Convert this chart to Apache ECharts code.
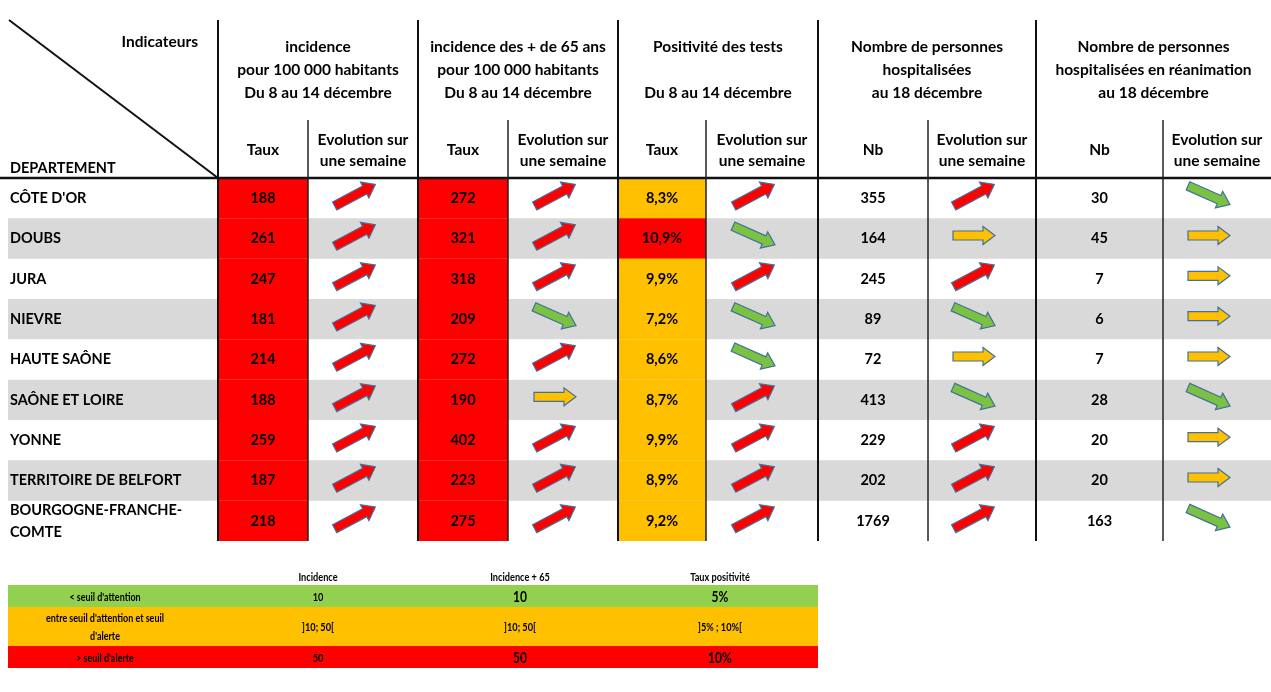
<!DOCTYPE html>
<html>
<head>
<meta charset="utf-8">
<script src="https://cdn.jsdelivr.net/npm/echarts@6/dist/echarts.min.js"></script>
<style>
html, body { margin: 0; padding: 0; background: #fff; }
#chart { width: 1271px; height: 692px; }
</style>
</head>
<body>
<div id="chart"></div>
<script>
// données du tableau
var departements = ["CÔTE D'OR", 'DOUBS', 'JURA', 'NIEVRE', 'HAUTE SAÔNE', 'SAÔNE ET LOIRE', 'YONNE', 'TERRITOIRE DE BELFORT', 'BOURGOGNE-FRANCHE-\nCOMTE'];
var incidence = [188, 261, 247, 181, 214, 188, 259, 187, 218];
var incidenceEvol = ['up', 'up', 'up', 'up', 'up', 'up', 'up', 'up', 'up'];
var incidence65 = [272, 321, 318, 209, 272, 190, 402, 223, 275];
var incidence65Evol = ['up', 'up', 'up', 'down', 'up', 'flat', 'up', 'up', 'up'];
var positivite = [8.3, 10.9, 9.9, 7.2, 8.6, 8.7, 9.9, 8.9, 9.2];
var positiviteEvol = ['up', 'down', 'up', 'down', 'down', 'up', 'up', 'up', 'up'];
var hospitalises = [355, 164, 245, 89, 72, 413, 229, 202, 1769];
var hospitalisesEvol = ['up', 'flat', 'up', 'down', 'flat', 'down', 'up', 'up', 'up'];
var reanimation = [30, 45, 7, 6, 7, 28, 20, 20, 163];
var reanimationEvol = ['down', 'flat', 'flat', 'flat', 'flat', 'down', 'flat', 'flat', 'down'];

// seuils (légende)
var seuilIncidence = [10, 50];
var seuilPositivite = [5, 10];
var legendeTitres = ['Incidence', 'Incidence + 65', 'Taux positivité'];
var legendeLibelles = ["< seuil d'attention", "entre seuil d'attention et seuil\nd'alerte", "> seuil d'alerte"];
var legendeIncidence = ['10', ']10; 50[', '50'];
var legendeIncidence65 = ['10', ']10; 50[', '50'];
var legendePositivite = ['5%', ']5% ; 10%[', '10%'];

// en-têtes
var groupes = [
    'incidence\npour 100 000 habitants\nDu 8 au 14 décembre',
    'incidence des + de 65 ans\npour 100 000 habitants\nDu 8 au 14 décembre',
    'Positivité des tests\n\nDu 8 au 14 décembre',
    'Nombre de personnes\nhospitalisées\nau 18 décembre',
    'Nombre de personnes\nhospitalisées en réanimation\nau 18 décembre'
];
var sousTitres = ['Taux', 'Taux', 'Taux', 'Nb', 'Nb'];
var evolTitre = 'Evolution sur\nune semaine';

/* mise en page */
var colEdges = [8, 218, 308, 418, 508, 618, 706, 818, 928, 1036, 1163, 1271];
var couleurs = { vert: '#92d050', orange: '#ffc000', rouge: '#ff0000', gris: '#d9d9d9' };
var arrowColors = { up: '#ff0000', down: '#7cc242', flat: '#ffc000' };
var arrowAngles = { up: 28, down: -24, flat: 0 };
var police = 'Lato, "Open Sans", sans-serif';
var fTete = 'bold 15.5px ' + police;
var fMaj = 'bold 14.5px ' + police;

function couleurSeuil(v, seuils) {
    if (v >= seuils[1]) return couleurs.rouge;
    if (v >= seuils[0]) return couleurs.orange;
    return couleurs.vert;
}

var valeurs = [], fleches = [], bandes = [], noms = [];
departements.forEach(function (d, r) {
    noms.push([0, r, d]);
    if (r % 2 === 1) bandes.push([0, r]);
    valeurs.push([1, r, String(incidence[r]), couleurSeuil(incidence[r], seuilIncidence)]);
    valeurs.push([3, r, String(incidence65[r]), couleurSeuil(incidence65[r], seuilIncidence)]);
    valeurs.push([5, r, positivite[r].toFixed(1).replace('.', ',') + '%', couleurSeuil(positivite[r], seuilPositivite)]);
    valeurs.push([7, r, String(hospitalises[r]), '']);
    valeurs.push([9, r, String(reanimation[r]), '']);
    fleches.push([2, r, incidenceEvol[r]]);
    fleches.push([4, r, incidence65Evol[r]]);
    fleches.push([6, r, positiviteEvol[r]]);
    fleches.push([8, r, hospitalisesEvol[r]]);
    fleches.push([10, r, reanimationEvol[r]]);
});

function cellBox(api, col, row) {
    var p0 = api.coord([colEdges[col], row]);
    var p1 = api.coord([colEdges[col + 1], row]);
    var h = api.size([0, 1])[1];
    return { x: p0[0], y: p0[1] - h / 2, w: p1[0] - p0[0], h: h, cx: (p0[0] + p1[0]) / 2, cy: p0[1] };
}

function texte(t, x, y, font, opts) {
    opts = opts || {};
    return {
        type: 'text', x: x, y: y, scaleX: opts.scaleX || 1, z: 50,
        style: { text: t, x: 0, y: 0, align: opts.align || 'center', verticalAlign: 'middle', lineHeight: opts.lineHeight, font: font, fill: '#000' }
    };
}

var graphics = [];
// lignes
graphics.push({ type: 'line', shape: { x1: 9, y1: 20, x2: 218, y2: 178 }, style: { stroke: '#111', lineWidth: 2 }, z: 100 });
graphics.push({ type: 'line', shape: { x1: 0, y1: 178, x2: 1271, y2: 178 }, style: { stroke: '#111', lineWidth: 2.5 }, z: 100 });
[218, 418, 618, 818, 1036].forEach(function (x) {
    graphics.push({ type: 'line', shape: { x1: x, y1: 20, x2: x, y2: 541 }, style: { stroke: '#111', lineWidth: 2 }, z: 100 });
});
[308, 508, 706, 928, 1163].forEach(function (x) {
    graphics.push({ type: 'line', shape: { x1: x, y1: 120, x2: x, y2: 541 }, style: { stroke: '#222', lineWidth: 1.5 }, z: 100 });
});
// textes d'en-tête
graphics.push(texte('Indicateurs', 198, 42, fTete, { align: 'right' }));
graphics.push(texte('DEPARTEMENT', 10, 168, fMaj, { align: 'left' }));
groupes.forEach(function (g, i) {
    var c0 = 1 + i * 2;
    var cx = (colEdges[c0] + colEdges[c0 + 2]) / 2;
    graphics.push(texte(g, cx, 70, fTete, { lineHeight: 23 }));
    graphics.push(texte(sousTitres[i], (colEdges[c0] + colEdges[c0 + 1]) / 2, 150, fTete));
    graphics.push(texte(evolTitre, (colEdges[c0 + 1] + colEdges[c0 + 2]) / 2, 150, fTete, { lineHeight: 21 }));
});
// légende des seuils
var legRows = [585, 607, 646, 668];
var legCols = [105, 318, 520, 720];
var legCouleurs = [couleurs.vert, couleurs.orange, couleurs.rouge];
var fLeg = 'bold 11.5px ' + police;
var fLegGrand = 'bold 15px ' + police;
legendeTitres.forEach(function (t, i) {
    graphics.push(texte(t, legCols[i + 1], 577, fLeg, { scaleX: 0.8 }));
});
legendeLibelles.forEach(function (lib, i) {
    var y0 = legRows[i], y1 = legRows[i + 1], cy = (y0 + y1) / 2;
    var grand = i !== 1;
    graphics.push({ type: 'rect', shape: { x: 8, y: y0, width: 810, height: y1 - y0 }, style: { fill: legCouleurs[i] } });
    graphics.push(texte(lib, legCols[0], cy + 1, fLeg, { scaleX: 0.78, lineHeight: 18 }));
    graphics.push(texte(legendeIncidence[i], legCols[1], cy + 1, fLeg, { scaleX: 0.8 }));
    graphics.push(texte(legendeIncidence65[i], legCols[2], cy + 1, grand ? fLegGrand : fLeg, { scaleX: 0.8 }));
    graphics.push(texte(legendePositivite[i], legCols[3], cy + 1, grand ? fLegGrand : fLeg, { scaleX: 0.8 }));
});

var chart = echarts.init(document.getElementById('chart'));
chart.setOption({
    backgroundColor: '#fff',
    animation: false,
    grid: { left: 0, right: 0, top: 178, height: 363 },
    xAxis: { type: 'value', min: 0, max: 1271, show: false },
    yAxis: { type: 'category', data: departements, inverse: true, show: false },
    graphic: graphics,
    series: [
        {
            name: 'bandes', type: 'custom', z: 1, data: bandes,
            renderItem: function (params, api) {
                var a = cellBox(api, 0, api.value(1));
                return { type: 'rect', shape: { x: 8, y: a.y, width: 1271 - 8, height: a.h }, style: { fill: couleurs.gris } };
            }
        },
        {
            name: 'departements', type: 'custom', z: 3, data: noms,
            renderItem: function (params, api) {
                var a = cellBox(api, 0, api.value(1));
                return { type: 'text', style: { text: noms[params.dataIndex][2], x: 10, y: a.cy, align: 'left', verticalAlign: 'middle', lineHeight: 22, font: fMaj, fill: '#000' } };
            }
        },
        {
            name: 'valeurs', type: 'custom', z: 2, data: valeurs,
            renderItem: function (params, api) {
                var d = valeurs[params.dataIndex];
                var a = cellBox(api, d[0], d[1]);
                var children = [];
                if (d[3]) children.push({ type: 'rect', shape: { x: a.x, y: a.y, width: a.w, height: a.h }, style: { fill: d[3] } });
                children.push({ type: 'text', style: { text: d[2], x: a.cx, y: a.cy, align: 'center', verticalAlign: 'middle', font: fMaj, fill: '#000' } });
                return { type: 'group', children: children };
            }
        },
        {
            name: 'evolution', type: 'custom', z: 4, data: fleches,
            renderItem: function (params, api) {
                var d = fleches[params.dataIndex];
                var a = cellBox(api, d[0], d[1]);
                var L = d[2] === 'flat' ? 21 : 23;
                var pts = [[-L, -4.5], [L - 12, -4.5], [L - 12, -9], [L, 0], [L - 12, 9], [L - 12, 4.5], [-L, 4.5]];
                return {
                    type: 'polygon', x: a.cx - 8, y: a.cy - 3,
                    rotation: arrowAngles[d[2]] * Math.PI / 180,
                    shape: { points: pts },
                    style: { fill: arrowColors[d[2]], stroke: '#41719c', lineWidth: 1.2 }
                };
            }
        }
    ]
});
</script>
</body>
</html>
